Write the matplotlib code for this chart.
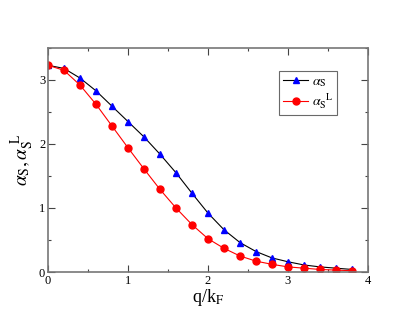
import matplotlib
matplotlib.use("Agg")
import matplotlib.pyplot as plt
from matplotlib.ticker import MultipleLocator

plt.rcParams['font.family'] = ['Liberation Serif', 'DejaVu Serif']
plt.rcParams['mathtext.fontset'] = 'stix'

q = [0.0, 0.2, 0.4, 0.6, 0.8, 1.0, 1.2, 1.4, 1.6, 1.8,
     2.0, 2.2, 2.4, 2.6, 2.8, 3.0, 3.2, 3.4, 3.6, 3.8]
alpha_s = [3.23, 3.18, 3.03, 2.83, 2.59, 2.35, 2.11, 1.84, 1.55, 1.23,
           0.92, 0.66, 0.46, 0.32, 0.22, 0.16, 0.11, 0.08, 0.06, 0.04]
alpha_sl = [3.23, 3.15, 2.92, 2.62, 2.28, 1.94, 1.61, 1.29, 1.00, 0.74,
            0.52, 0.37, 0.25, 0.17, 0.12, 0.08, 0.06, 0.04, 0.03, 0.02]

fig = plt.figure(figsize=(4.15, 3.21), dpi=100)
ax = fig.add_axes([0.1157, 0.1526, 0.771, 0.698])

ax.plot(q, alpha_s, color='black', lw=0.8, marker='^', ms=5,
        mfc='blue', mec='blue', label=r'$\alpha_\mathrm{S}$')
ax.plot(q, alpha_sl, color='red', lw=0.8, marker='o', ms=5,
        mfc='red', mec='red', label=r'$\alpha_\mathrm{S}^{\ \ \mathrm{L}}$')

ax.set_xlim(0, 4)
ax.set_ylim(0, 3.5)
ax.xaxis.set_major_locator(MultipleLocator(1))
ax.xaxis.set_minor_locator(MultipleLocator(0.5))
ax.yaxis.set_major_locator(MultipleLocator(1))
ax.yaxis.set_minor_locator(MultipleLocator(0.5))
ax.tick_params(which='both', direction='in', top=True, right=True,
               labelsize=9, pad=2, color='#444444', width=0.8)
ax.tick_params(which='major', length=5)
ax.tick_params(which='minor', length=2.5)
for s in ax.spines.values():
    s.set_color('#777777')
    s.set_linewidth(1.2)

ax.set_xlabel(r'q/k$_\mathrm{F}$', fontsize=13, labelpad=0)
ax.set_ylabel(r'$\alpha_\mathrm{S}, \alpha_\mathrm{S}^{\ \mathrm{L}}$',
              fontsize=14, labelpad=2)

leg = ax.legend(loc='upper left', bbox_to_anchor=(0.7, 0.93), fontsize=10,
                frameon=True, fancybox=False, handlelength=1.8,
                borderpad=0.3, labelspacing=0.2, handletextpad=0.3)
leg.get_frame().set_edgecolor('#444444')
leg.get_frame().set_linewidth(0.8)

fig.savefig('out.png', dpi=100)
